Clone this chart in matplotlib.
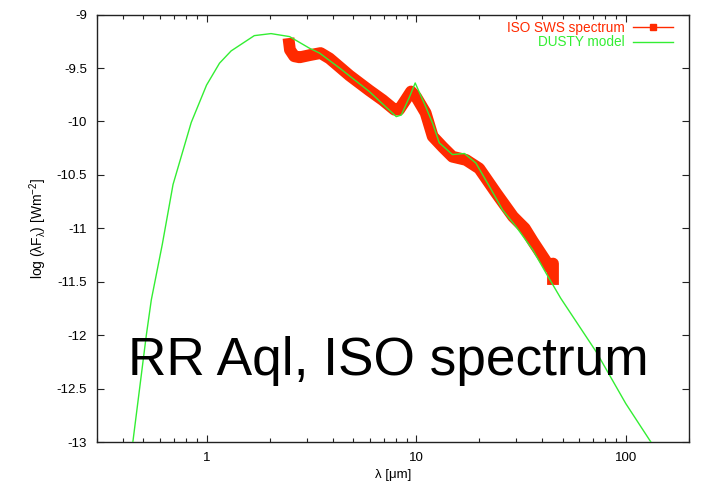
import matplotlib
matplotlib.use("Agg")
import matplotlib.pyplot as plt
from matplotlib.lines import Line2D
from matplotlib.ticker import FixedLocator, LogLocator, NullFormatter

plt.rcParams["font.family"] = ["Liberation Sans", "DejaVu Sans"]
plt.rcParams["mathtext.fontset"] = "custom"
plt.rcParams["mathtext.rm"] = "Liberation Sans"
plt.rcParams["mathtext.it"] = "Liberation Sans"

# DUSTY model (wavelength in micron, log lambda F_lambda)
model_wl = [0.42, 0.445, 0.516, 0.545, 0.615, 0.692, 0.845, 1.0, 1.153, 1.31,
            1.69, 2.03, 2.49, 3.1, 3.46, 4.31, 5.98, 8.04, 8.5, 9.3, 9.9,
            11.1, 12.0, 12.9, 14.9, 17.0, 19.3, 22.4, 25.9, 30.0, 36.0, 41.7,
            49.0, 72.3, 100.1, 131.9, 150.0]
model_lf = [-13.4, -13.0, -12.0, -11.67, -11.15, -10.59, -10.01, -9.66, -9.455,
            -9.34, -9.197, -9.178, -9.206, -9.315, -9.36, -9.50, -9.72, -9.955,
            -9.94, -9.77, -9.64, -9.86, -10.02, -10.20, -10.31, -10.30, -10.39,
            -10.61, -10.83, -10.985, -11.20, -11.42, -11.655, -12.155, -12.64,
            -13.0, -13.17]

# ISO SWS spectrum
iso_wl = [2.46, 2.50, 2.62, 2.78, 3.1, 3.5, 3.86, 4.31, 4.81, 5.98, 6.93, 7.88,
          8.3, 8.9, 9.46, 10.0, 11.1, 12.0, 13.4, 14.9, 17.3, 20.0, 24.1, 29.0,
          31.1, 33.0, 36.0, 41.7, 43.5, 45.0, 45.0]
iso_lf = [-9.22, -9.33, -9.39, -9.40, -9.38, -9.36, -9.41, -9.49, -9.57, -9.71,
          -9.80, -9.89, -9.89, -9.80, -9.72, -9.77, -9.92, -10.14, -10.24,
          -10.33, -10.36, -10.44, -10.67, -10.89, -10.95, -11.0, -11.12, -11.31,
          -11.37, -11.33, -11.53]

yticks = [-9, -9.5, -10, -10.5, -11, -11.5, -12, -12.5, -13]

red = "#ff2a00"
green = "#33ee33"

fig = plt.figure(figsize=(7.13, 4.86), dpi=100)
ax = fig.add_axes([0.136, 0.0905, 0.830, 0.8795])

ax.plot(iso_wl, iso_lf, color=red, lw=8.5, solid_joinstyle="round",
        solid_capstyle="butt", zorder=2)
ax.plot(model_wl, model_lf, color=green, lw=1.0, zorder=3)

ax.set_xscale("log")
ax.set_xlim(0.3, 200)
ax.set_ylim(-13, -9)

ax.xaxis.set_major_locator(FixedLocator([1, 10, 100]))
ax.set_xticklabels(["1", "10", "100"])
ax.xaxis.set_minor_locator(LogLocator(base=10, subs=range(2, 10), numticks=20))
ax.xaxis.set_minor_formatter(NullFormatter())
ax.set_yticks(yticks)
ax.set_yticklabels(["%g" % v for v in yticks])

ax.tick_params(which="both", direction="in", top=True, right=True,
               labelsize=9.5, color="#222222")
ax.tick_params(which="major", length=5, width=0.8, pad=7)
ax.tick_params(which="minor", length=3, width=0.8)
for s in ax.spines.values():
    s.set_linewidth(1.0)
    s.set_color("#222222")

ax.set_xlabel(r"λ [μm]", fontsize=9.5, labelpad=4)
ax.set_ylabel(r"log (λF$_{λ}$) [Wm$^{-2}$]", fontsize=10, labelpad=6)

handles = [
    Line2D([], [], color=red, lw=1, marker="s", ms=4),
    Line2D([], [], color=green, lw=1),
]
leg = ax.legend(handles, ["ISO SWS spectrum", "DUSTY model"], loc="upper right",
                bbox_to_anchor=(0.9865, 1.005),
                frameon=False, fontsize=9.8, markerfirst=False, handlelength=2.9,
                handletextpad=0.6, labelspacing=0.05, borderaxespad=0.2)
for t, c in zip(leg.get_texts(), [red, green]):
    t.set_color(c)

fig.text(0.1795, 0.228, "RR Aql, ISO spectrum", fontsize=38.3, va="baseline",
         ha="left", color="black")

fig.savefig("out.png", dpi=100)
